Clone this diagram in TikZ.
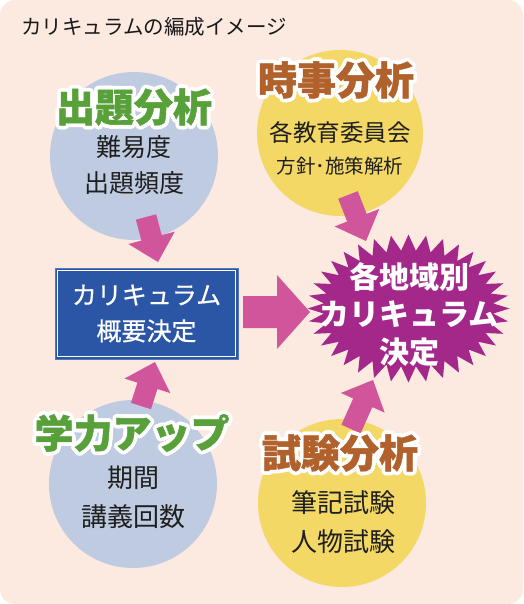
\documentclass[tikz,border=0pt]{standalone}
\usepackage{fontspec}
\setmainfont{Noto Sans CJK JP}
\newfontfamily\jpheavy[BoldFeatures={FakeBold=1.2}]{Noto Sans CJK JP}
\newfontfamily\jpmedium[FakeBold=0.6]{Noto Sans CJK JP}
\usetikzlibrary{calc}
\usepackage{xcolor}

\definecolor{bgpeach}{HTML}{FCE9E0}
\definecolor{circblue}{HTML}{BECBE1}
\definecolor{circyellow}{HTML}{F3D865}
\definecolor{titlegreen}{HTML}{58A03A}
\definecolor{titlebrown}{HTML}{B1612B}
\definecolor{boxblue}{HTML}{2A56A5}
\definecolor{arrowpink}{HTML}{D0559B}
\definecolor{burstpurple}{HTML}{A3288A}

\tikzset{
  circ/.style={circle, inner sep=0pt, minimum size=168pt},
  bodytext/.style={align=center, inner sep=0pt, text=black!88},
  titletext/.style={inner sep=0pt, font=\fontsize{39}{39}\selectfont\jpheavy\bfseries},
  ctrbox/.style={fill=boxblue, draw=boxblue!80!white, line width=0.8pt, minimum width=183pt, minimum height=91pt,
    text=white, align=center, font=\fontsize{25}{36}\selectfont\jpmedium}
}

% block arrow: start, end, shaft half width, head half width, head length
\newcommand{\blockarrow}[5]{%
  \fill[arrowpink] ($(#1)!#3!90:(#2)$) -- ($(#2)!#5!(#1)!#3!-90:(#1)$) -- ($(#2)!#5!(#1)!#4!-90:(#1)$)
    -- (#2) -- ($(#2)!#5!(#1)!#4!90:(#1)$) -- ($(#2)!#5!(#1)!#3!90:(#1)$) -- ($(#1)!#3!-90:(#2)$) -- cycle;}

% title with white outline: name, position, colour, text
\newcommand{\outlinedtitle}[4]{%
  \foreach \a in {0,22.5,...,337.5}
    \node[titletext, text=white] (#1-\a) at ($(#2)+(\a:3.8)$) {#4};
  \node[titletext, text=#3] (#1) at (#2) {#4};}

\begin{document}
\begin{tikzpicture}[x=1pt, y=-1pt]
    \useasboundingbox (0,0) rectangle (523,604);
    \fill[bgpeach, rounded corners=15pt] (0,0) rectangle (523,604);
    \node[anchor=west, inner sep=0pt, font=\fontsize{20.5}{20.5}\selectfont, text=black!90] (heading) at (21,26.5) {カリキュラムの編成イメージ};

    % Circles
    \node[circ, fill=circblue] (trend) at (134,156) {};
    \node[circ, fill=circyellow, minimum size=166pt] (news) at (340,133) {};
    \node[circ, fill=circblue] (boost) at (133,484) {};
    \node[circ, fill=circyellow] (exam) at (342,503) {};

    % Arrows
    \coordinate (trend-s) at (146,217);  \coordinate (trend-e) at (158,262);
    \coordinate (news-s) at (348,195);   \coordinate (news-e) at (366,241);
    \coordinate (boost-s) at (141,406);  \coordinate (boost-e) at (155,362);
    \coordinate (exam-s) at (351,429);   \coordinate (exam-e) at (373,380);
    \coordinate (plan-s) at (243,312);   \coordinate (plan-e) at (310,312);
    \blockarrow{trend-s}{trend-e}{10.5pt}{24pt}{25pt}
    \blockarrow{news-s}{news-e}{10.5pt}{24pt}{25pt}
    \blockarrow{boost-s}{boost-e}{10.5pt}{24pt}{25pt}
    \blockarrow{exam-s}{exam-e}{10.5pt}{24pt}{25pt}
    \blockarrow{plan-s}{plan-e}{16pt}{37pt}{33pt}

    % Outline box
    \node[ctrbox] (plan) at (146.5,313.5) {カリキュラム\\概要決定};
    \draw[white, line width=1.3pt] ($(plan.south west)+(2.6,-2.6)$) rectangle ($(plan.north east)+(-2.6,2.6)$);

    % Starburst
    \fill[burstpurple, shift={(408.5,308.5)}] (0:101 and 74)
      \foreach \i [evaluate=\i as \ra using {mod(\i,2)==0 ? 101 : 85},
                   evaluate=\i as \rb using {mod(\i,2)==0 ? 74 : 58}] in {1,...,71}
      { -- (\i*5:{\ra} and {\rb}) } -- cycle;
    \node[align=center, inner sep=0pt, text=white, font=\fontsize{30}{37.5}\selectfont\bfseries] (region) at (409,314.5) {各地域別\\カリキュラム\\決定};

    % Titles
    \outlinedtitle{trend-t}{134,107}{titlegreen}{出題分析}
    \outlinedtitle{news-t}{336,80}{titlebrown}{時事分析}
    \outlinedtitle{boost-t}{132,433}{titlegreen}{学力アップ}
    \outlinedtitle{exam-t}{340,453}{titlebrown}{試験分析}

    % Circle texts
    \node[bodytext, font=\fontsize{25}{35.5}\selectfont] (trend-b) at (134,165) {難易度\\出題頻度};
    \node[bodytext, font=\fontsize{23.5}{33}\selectfont] (news-b1) at (340,133) {各教育委員会};
    \node[bodytext, font=\fontsize{19.5}{33}\selectfont] (news-b2) at (340,166) {方針･施策解析};
    \node[bodytext, font=\fontsize{26}{38.5}\selectfont] (boost-b) at (133,497.5) {期間\\講義回数};
    \node[bodytext, font=\fontsize{26}{39}\selectfont] (exam-b) at (343,522.5) {筆記試験\\人物試験};
\end{tikzpicture}
\end{document}
